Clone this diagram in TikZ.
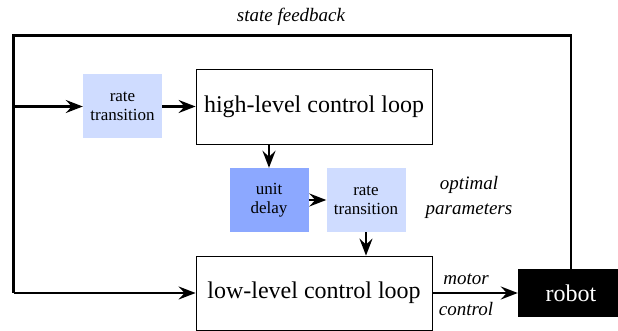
\documentclass[tikz,border=0pt]{standalone}
\usepackage{fontspec}
\setmainfont{Liberation Serif}
\usetikzlibrary{arrows.meta}
\definecolor{lightblue}{HTML}{CFDCFF}
\definecolor{midblue}{HTML}{8CA8FF}
\begin{document}
\begin{tikzpicture}[x=1pt,y=-1pt,
  bigbox/.style={draw=black,line width=0.8pt,inner sep=0pt,minimum width=236pt,minimum height=75pt,font=\fontsize{24}{26}\selectfont},
  smallbox/.style={inner sep=0pt,minimum width=79pt,minimum height=64pt,align=center,font=\fontsize{17}{19}\selectfont},
  lbl/.style={inner sep=0pt,align=center,font=\fontsize{19}{25}\selectfont\itshape},
  conn/.style={line width=2.4pt,-{Stealth[length=17pt,width=13pt,inset=6pt]}},
  fb/.style={line width=2.7pt}]
\useasboundingbox (0,0) rectangle (618,331);
\node[smallbox,fill=lightblue] (rt1) at (122.5,106.5) {rate\\transition};
\node[bigbox] (high) at (314,106.5) {high-level control loop};
\node[smallbox,fill=midblue] (ud) at (269,200) {unit\\delay};
\node[smallbox,fill=lightblue] (rt2) at (366,200) {rate\\transition};
\node[bigbox,minimum height=74pt] (low) at (314,293) {low-level control loop};
\node[fill=black,text=white,inner sep=0pt,minimum width=106pt,minimum height=48pt,font=\fontsize{24}{26}\selectfont] (robot) at (571,293) {robot};
\node[lbl] (sf) at (291,17) {state feedback};
\node[lbl] (op) at (469,197.5) {optimal\\parameters};
\node[lbl] (mo) at (466,279) {motor};
\node[lbl] (co) at (466,309) {control};
\coordinate (tr) at (571,35.7);
\coordinate (tl) at (13.8,35.7);
\coordinate (mid) at (13.8,106.5);
\coordinate (bl) at (13.8,293);
\draw[fb,line join=miter] (robot.north) -- (tr) -- (tl) -- (bl);
\draw[conn] (bl) -- (low.west);
\draw[conn] (mid) -- (rt1.west);
\draw[conn] (rt1.east) -- (high.west);
\draw[conn] (high.south -| ud.north) -- (ud.north);
\draw[conn] (ud.east) -- (rt2.west);
\draw[conn] (rt2.south) -- (rt2.south |- low.north);
\draw[conn] (low.east) -- (robot.west);
\end{tikzpicture}
\end{document}
